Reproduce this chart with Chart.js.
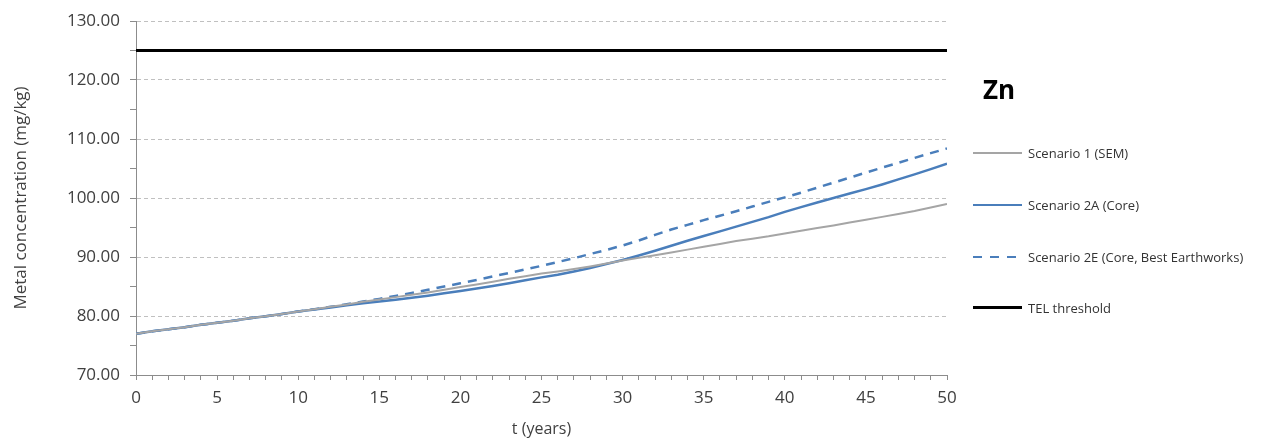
<!DOCTYPE html>
<html>
<head>
<meta charset="utf-8">
<script src="https://cdn.jsdelivr.net/npm/chart.js@4.4.0/dist/chart.umd.min.js"></script>
<style>
  body { margin:0; background:#fff; }
  #wrap { position:relative; width:1263px; height:446px; font-family:"Open Sans", sans-serif; }
  #zn { position:absolute; left:983px; top:76px; font-size:26px; font-weight:bold; line-height:26px; color:#000; }
  .item { position:absolute; left:973px; height:16px; }
  .item .swatch { position:absolute; left:0; top:7px; width:49px; height:2px; }
  .item .txt { position:absolute; left:55px; top:0; font-size:13px; line-height:16px; color:#333; white-space:nowrap; }
</style>
</head>
<body>
<div id="wrap">
  <canvas id="chart" width="1263" height="446"></canvas>
  <div id="zn">Zn</div>
  <div id="legend"></div>
</div>
<script>
// --- data ---
const years = [0,1,2,3,4,5,6,7,8,9,10,11,12,13,14,15,16,17,18,19,20,21,22,23,24,25,
  26,27,28,29,30,31,32,33,34,35,36,37,38,39,40,41,42,43,44,45,46,47,48,49,50];
const scen1 = [77.0,77.4,77.75,78.1,78.5,78.85,79.2,79.6,79.95,80.35,
  80.75,81.15,81.55,81.95,82.4,82.8,83.2,83.6,84.0,84.45,
  84.9,85.35,85.8,86.3,86.75,87.2,87.55,87.95,88.4,88.9,
  89.4,89.85,90.3,90.75,91.25,91.75,92.2,92.7,93.1,93.5,
  94.0,94.45,94.9,95.35,95.85,96.3,96.8,97.3,97.8,98.4,99.0];
const scen2A = [77.0,77.4,77.75,78.1,78.5,78.85,79.2,79.6,79.95,80.35,
  80.75,81.1,81.45,81.8,82.15,82.45,82.75,83.1,83.45,83.85,
  84.25,84.65,85.1,85.55,86.05,86.55,87.0,87.55,88.15,88.8,
  89.5,90.25,91.05,91.9,92.75,93.55,94.35,95.15,95.95,96.75,
  97.65,98.45,99.25,100.0,100.75,101.5,102.3,103.15,104.0,104.9,105.8];
const scen2E = [77.0,77.4,77.75,78.1,78.5,78.85,79.2,79.6,79.95,80.35,
  80.75,81.15,81.55,82.0,82.45,82.9,83.4,83.9,84.45,85.0,
  85.55,86.1,86.7,87.3,87.9,88.5,89.15,89.8,90.5,91.2,
  91.95,92.8,93.75,94.65,95.45,96.25,97.0,97.75,98.55,99.35,
  100.1,100.9,101.75,102.6,103.45,104.3,105.15,105.95,106.8,107.6,108.4];
const telYears = [0, 50];
const telValues = [125, 125];

const seriesNames = ["Scenario 1 (SEM)", "Scenario 2A (Core)", "Scenario 2E (Core, Best Earthworks)", "TEL threshold"];
const GRAY = "#a5a5a5", BLUE = "#4a7ebb", BLACK = "#000000";

const xy = (xs, ys) => xs.map((x, i) => ({x, y: ys[i]}));

// --- legend (html) ---
const legendRows = [
  {name: seriesNames[0], css: "background:" + GRAY, top: 145},
  {name: seriesNames[1], css: "background:" + BLUE, top: 197},
  {name: seriesNames[2], css: "background:repeating-linear-gradient(to right," + BLUE + " 0 9px, transparent 9px 17px)", top: 249},
  {name: seriesNames[3], css: "background:" + BLACK + ";height:3px;top:6px", top: 300}
];
document.getElementById("legend").innerHTML = legendRows.map(r =>
  `<div class="item" style="top:${r.top}px"><div class="swatch" style="${r.css}"></div><div class="txt">${r.name}</div></div>`
).join("");

// --- chart ---
const font = {family: "'Open Sans', sans-serif", size: 17};
new Chart(document.getElementById("chart").getContext("2d"), {
  type: "line",
  data: {
    datasets: [
      { label: seriesNames[0], data: xy(years, scen1), borderColor: GRAY, borderWidth: 2 },
      { label: seriesNames[1], data: xy(years, scen2A), borderColor: BLUE, borderWidth: 2.5 },
      { label: seriesNames[2], data: xy(years, scen2E), borderColor: BLUE, borderWidth: 2.5, borderDash: [9, 7] },
      { label: seriesNames[3], data: xy(telYears, telValues), borderColor: BLACK, borderWidth: 3 }
    ]
  },
  options: {
    responsive: false,
    animation: false,
    layout: { padding: { left: 0, right: 316, top: 21, bottom: 0 } },
    elements: { point: { radius: 0 }, line: { tension: 0, fill: false } },
    plugins: { legend: { display: false }, tooltip: { enabled: false } },
    scales: {
      x: {
        type: "linear", min: 0, max: 50,
        afterFit: s => { s.height = 71; },
        ticks: {
          stepSize: 1, autoSkip: false, maxRotation: 0, padding: 8,
          color: "#404040", font,
          callback: v => (v % 5 === 0 ? String(v) : "")
        },
        grid: { drawOnChartArea: false, drawTicks: true, tickLength: 5, tickColor: "#8c8c8c" },
        border: { color: "#8c8c8c", width: 1 },
        title: { display: true, text: "t (years)", color: "#404040", font: {family: font.family, size: 16}, padding: {top: 0, bottom: 7} }
      },
      y: {
        min: 70, max: 130,
        afterFit: s => { s.width = 136; },
        ticks: {
          stepSize: 5, padding: 10, color: "#404040", font,
          callback: v => (v % 10 === 0 ? v.toFixed(2) : "")
        },
        grid: {
          tickLength: 6, tickColor: "#8c8c8c",
          color: c => (c.tick && c.tick.value % 10 === 0 && c.tick.value > 70 ? "#c0c0c0" : "rgba(0,0,0,0)")
        },
        border: { color: "#8c8c8c", width: 1, dash: [4, 3] },
        title: { display: true, text: "Metal concentration (mg/kg)", color: "#404040", font: {family: font.family, size: 17}, padding: {top: 11, bottom: 0} }
      }
    }
  }
});
</script>
</body>
</html>
